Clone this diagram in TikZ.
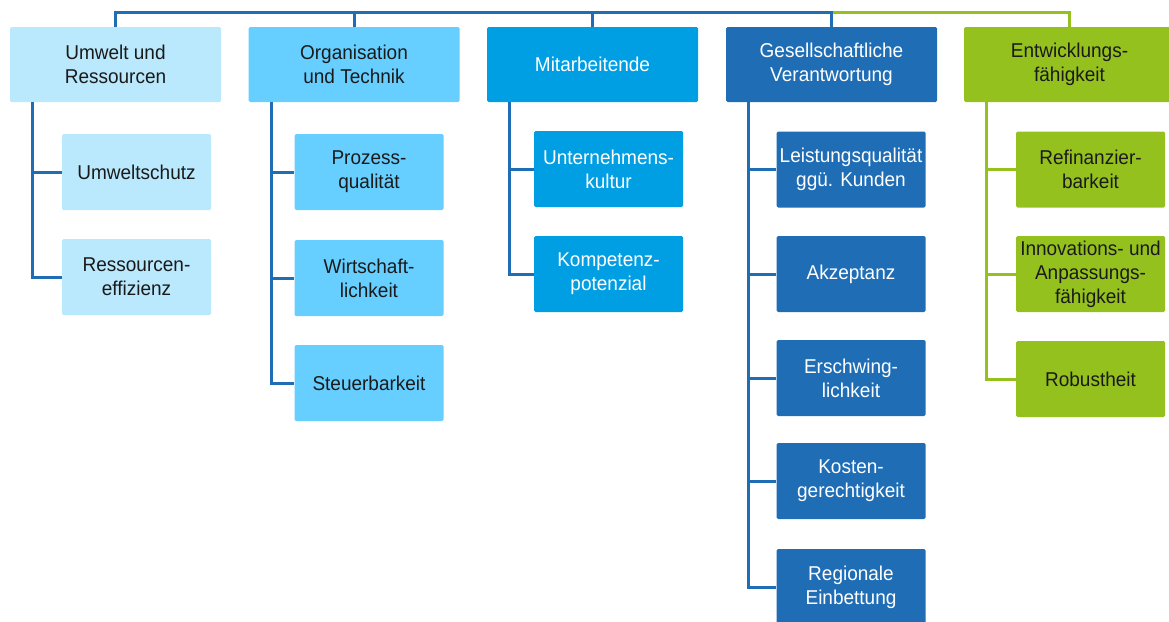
\documentclass[tikz,border=0pt]{standalone}
\usepackage{fontspec}
\setmainfont{Liberation Sans}[FakeStretch=0.95]
\definecolor{hellblau}{HTML}{BAE8FC}
\definecolor{mittelblau}{HTML}{66CFFF}
\definecolor{cyanblau}{HTML}{009FE3}
\definecolor{dunkelblau}{HTML}{1F6DB5}
\definecolor{gruen}{HTML}{95C11F}
\definecolor{schrift}{HTML}{1A1A1A}
\begin{document}
\begin{tikzpicture}[x=1pt,y=-1pt,
    kopf/.style={rounded corners=1.5pt, minimum width=211pt, minimum height=75pt, inner sep=0pt, align=center, text=schrift, font=\fontsize{20}{24}\selectfont},
    feld/.style={rounded corners=1.5pt, minimum width=149pt, minimum height=76pt, inner sep=0pt, align=center, text=schrift, font=\fontsize{20}{24}\selectfont},
    linie/.style={line width=3pt, dunkelblau},
    gruenlinie/.style={line width=3pt, gruen}]
    \useasboundingbox (0,0) rectangle (1169,621);
    % Kopfzeile
    \node[kopf, fill=hellblau] (uw) at (115.5,64.5) {Umwelt und\\Ressourcen};
    \node[kopf, fill=mittelblau] (ot) at (354,64.5) {Organisation\\und Technik};
    \node[kopf, fill=cyanblau, text=white] (ma) at (592.5,64.5) {Mitarbeitende};
    \node[kopf, fill=dunkelblau, text=white] (gv) at (831.5,64.5) {Gesellschaftliche\\Verantwortung};
    \node[kopf, fill=gruen] (ef) at (1069.5,64.5) {Entwicklungs-\\fähigkeit};
    \coordinate (oben) at (0,12);
    \draw[linie] (uw.north) -- (uw.north |- oben) -- (gv.north |- oben) -- (gv.north);
    \draw[linie] (ot.north) -- (ot.north |- oben);
    \draw[linie] (ma.north) -- (ma.north |- oben);
    \draw[gruenlinie] (gv.north |- oben) ++(1.5,0) -| (ef.north);
    % Umwelt und Ressourcen
    \node[feld, fill=hellblau] (us) at (136.5,172) {Umweltschutz};
    \node[feld, fill=hellblau] (re) at (136.5,277) {Ressourcen-\\effizienz};
    \coordinate (uwl) at (32,102);
    \draw[linie] (uwl) |- (us.west);
    \draw[linie] (uwl) |- (re.west);
    % Organisation und Technik
    \node[feld, fill=mittelblau] (pq) at (369,172) {Prozess-\\qualität};
    \node[feld, fill=mittelblau] (wl) at (369,278) {Wirtschaft-\\lichkeit};
    \node[feld, fill=mittelblau] (sb) at (369,383) {Steuerbarkeit};
    \coordinate (otl) at (271,102);
    \draw[linie] (otl) |- (pq.west);
    \draw[linie] (otl) |- (wl.west);
    \draw[linie] (otl) |- (sb.west);
    % Mitarbeitende
    \node[feld, fill=cyanblau, text=white] (uk) at (608.5,169) {Unternehmens-\\kultur};
    \node[feld, fill=cyanblau, text=white] (kp) at (608.5,274) {Kompetenz-\\potenzial};
    \coordinate (mal) at (509,102);
    \draw[linie] (mal) |- (uk.west);
    \draw[linie] (mal) |- (kp.west);
    % Gesellschaftliche Verantwortung
    \node[feld, fill=dunkelblau, text=white] (lq) at (851,169.5) {Leistungsqualität\\ggü. Kunden};
    \node[feld, fill=dunkelblau, text=white] (ak) at (851,274) {Akzeptanz};
    \node[feld, fill=dunkelblau, text=white] (es) at (851,378) {Erschwing-\\lichkeit};
    \node[feld, fill=dunkelblau, text=white] (kg) at (851,481) {Kosten-\\gerechtigkeit};
    \node[feld, fill=dunkelblau, text=white] (rg) at (851,587) {Regionale\\Einbettung};
    \coordinate (gvl) at (748,102);
    \foreach \n in {lq,ak,es,kg,rg}
        \draw[linie] (gvl) |- (\n.west);
    % Entwicklungsfaehigkeit
    \node[feld, fill=gruen] (rf) at (1090.5,169.5) {Refinanzier-\\barkeit};
    \node[feld, fill=gruen] (ia) at (1090.5,274) {Innovations- und\\Anpassungs-\\fähigkeit};
    \node[feld, fill=gruen] (rb) at (1090.5,379) {Robustheit};
    \coordinate (efl) at (986,102);
    \foreach \n in {rf,ia,rb}
        \draw[gruenlinie] (efl) |- (\n.west);
\end{tikzpicture}
\end{document}
